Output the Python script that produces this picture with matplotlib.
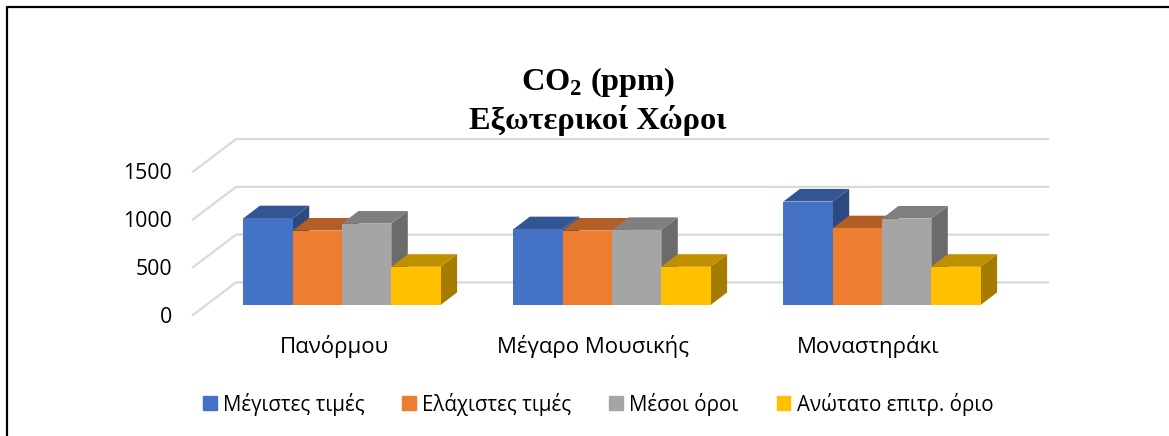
import matplotlib
matplotlib.use("Agg")
import matplotlib.pyplot as plt
from matplotlib.lines import Line2D
from matplotlib.patches import Patch

W, H = 1169, 436

categories = ["Πανόρμου", "Μέγαρο Μουσικής", "Μοναστηράκι"]
series_names = ["Μέγιστες τιμές", "Ελάχιστες τιμές", "Μέσοι όροι", "Ανώτατο επιτρ. όριο"]
max_values = [908, 793, 1083]
min_values = [779, 779, 803]
mean_values = [852, 786, 905]
limit_values = [400, 400, 400]
yticks = [0, 500, 1000, 1500]

series = [max_values, min_values, mean_values, limit_values]
front_colors = ["#4472C4", "#ED7D31", "#A5A5A5", "#FFC000"]
top_colors = ["#335593", "#B25E24", "#7F7F7F", "#BF9000"]
side_colors = ["#2C4A80", "#A35420", "#6B6B6B", "#A67C00"]
label_nudge = [6, -5, 0]  # px, category labels are not quite centred in the original

plt.rcParams["mathtext.fontset"] = "custom"
plt.rcParams["mathtext.bf"] = "Liberation Serif:bold"
plt.rcParams["mathtext.rm"] = "Liberation Serif:bold"

fig = plt.figure(figsize=(W / 100, H / 100), dpi=100)
ax = fig.add_axes([193 / W, (H - 315) / H, 810 / W, 143.3 / H])
ax.set_xlim(0, 3)
ax.set_ylim(0, 1500)
ax.axis("off")

# pixel sizes of the fake 3d depth, turned into data units
px_x = 3 / 810
px_y = 1500 / 143.3
wall_dx, wall_dy = 43 * px_x, 32.6 * px_y
bar_dx, bar_dy = 16.5 * px_x, 12.6 * px_y
start_dx, start_dy = 14 * px_x, 10 * px_y
bar_w = 49.3 * px_x

# back wall gridlines and the slanted left side
for t in yticks:
    ax.plot([0, wall_dx, 3 + wall_dx + 2 * px_x], [t, t + wall_dy, t + wall_dy],
            color="#D9D9D9", lw=1.6, clip_on=False, zorder=1, solid_joinstyle="miter")
    ax.text(-21 * px_x, t - 2 * px_y, str(t), ha="right", va="center", fontsize=15.3,
            family="Open Sans", color="black", clip_on=False)

for i, cat in enumerate(categories):
    ax.text(i + 0.5 + label_nudge[i] * px_x, -31 * px_y, cat, ha="center", va="center", fontsize=16,
            family="Open Sans", color="black", clip_on=False)
    for s, vals in enumerate(series):
        v = vals[i]
        x0 = i + 0.5 + start_dx + (s - 2) * bar_w
        y0 = start_dy
        z = 2 + s
        ax.bar(x0, v, bar_w, bottom=y0, align="edge", color=front_colors[s],
               clip_on=False, zorder=z + 0.2)
        x1 = x0 + bar_w
        y1 = y0 + v
        ax.fill([x0, x1, x1 + bar_dx, x0 + bar_dx], [y1, y1, y1 + bar_dy, y1 + bar_dy],
                color=top_colors[s], lw=0, clip_on=False, zorder=z + 0.1)
        ax.fill([x1, x1 + bar_dx, x1 + bar_dx, x1], [y0, y0 + bar_dy, y1 + bar_dy, y1],
                color=side_colors[s], lw=0, clip_on=False, zorder=z)

fig.text(598 / W, 1 - 82 / H, r"CO$_{\mathbf{2}}$ (ppm)", ha="center", va="center",
         family="Liberation Serif", weight="bold", fontsize=23.3)
fig.text(598 / W, 1 - 120 / H, "Εξωτερικοί Χώροι", ha="center", va="center",
         family="Liberation Serif", weight="bold", fontsize=23.3)

handles = [Patch(color=c) for c in front_colors]
fig.legend(handles, series_names, ncol=4, loc="center", bbox_to_anchor=(598 / W, 1 - 404 / H),
           frameon=False, handlelength=0.67, handleheight=0.67, handletextpad=0.3,
           columnspacing=1.85, prop={"family": "Open Sans", "size": 14.8})

# black frame, only left and top edges are in the picture
frame_x = [7 / W, 7 / W, 1]
frame_y = [0, 1 - 7.5 / H, 1 - 7.5 / H]
fig.add_artist(Line2D(frame_x, frame_y, color="black", lw=1.6, transform=fig.transFigure))

fig.savefig("out.png", dpi=100)
